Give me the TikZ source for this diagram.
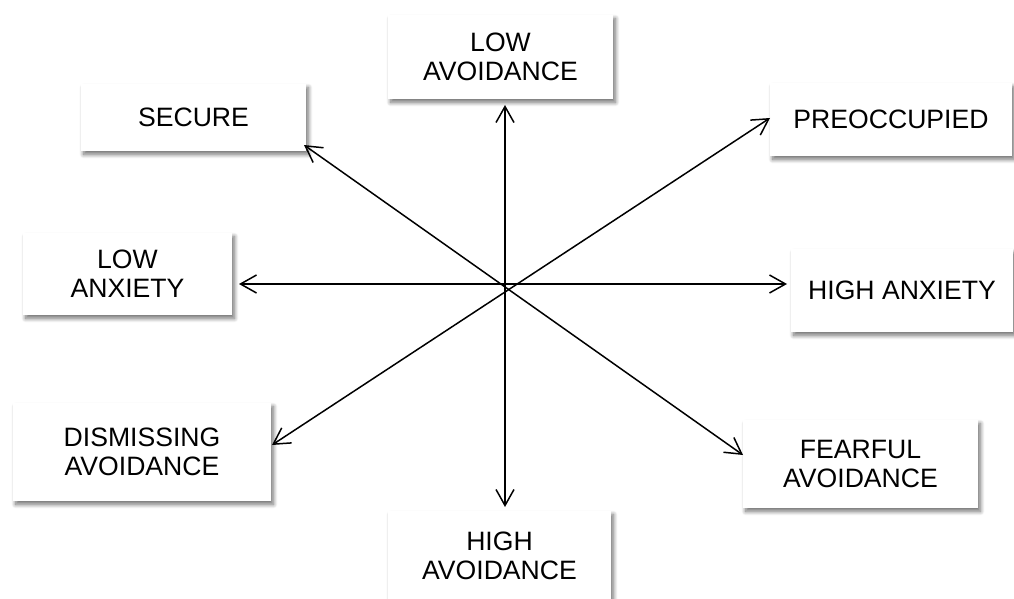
\documentclass[tikz,border=0pt]{standalone}
\usepackage{fontspec}
\setmainfont{Liberation Sans}
\usetikzlibrary{arrows.meta,shadows.blur}

\begin{document}
\begin{tikzpicture}[x=1pt,y=-1pt,
  label box/.style={fill=white, draw=none, inner sep=0pt, align=center,
    font=\fontsize{26.6}{29}\selectfont,
    blur shadow={shadow xshift=2.5pt, shadow yshift=-3.5pt,
      shadow blur radius=4pt, shadow blur steps=10, shadow opacity=55}},
  axis arrow/.style={line width=1.5pt,
    {Straight Barb[length=16pt,width=18pt,line width=1.5pt]}-{Straight Barb[length=16pt,width=18pt,line width=1.5pt]}}
]
\useasboundingbox (0,0) rectangle (1014,599);

% category boxes
\node[label box, minimum width=225pt, minimum height=84pt] (lowav) at (500.5,57) {LOW\\AVOIDANCE};
\node[label box, minimum width=225pt, minimum height=67pt] (secure) at (193.5,117.5) {SECURE};
\node[label box, minimum width=242pt, minimum height=73pt] (preocc) at (891,119.5) {PREOCCUPIED};
\node[label box, minimum width=209pt, minimum height=82pt] (lowanx) at (127.5,274) {LOW\\ANXIETY};
\node[label box, minimum width=222pt, minimum height=83pt] (highanx) at (902,290.5) {HIGH ANXIETY};
\node[label box, minimum width=258pt, minimum height=98pt] (dismiss) at (142,452) {DISMISSING\\AVOIDANCE};
\node[label box, minimum width=235pt, minimum height=88pt] (fearful) at (860.5,464) {FEARFUL\\AVOIDANCE};
\node[label box, minimum width=223pt, minimum height=90pt] (highav) at (499.5,556) {HIGH\\AVOIDANCE};

% arrow end points next to the boxes
\coordinate (vtop) at (505,105);
\coordinate (vbot) at (505,507);
\coordinate (hleft) at (239,284);
\coordinate (hright) at (787,284);
\coordinate (secpt) at (304,145);
\coordinate (fearpt) at (743,455);
\coordinate (prept) at (770,118);
\coordinate (dispt) at (272,445);

% axes through the centre
\draw[axis arrow] (vtop) -- (vbot);
\draw[axis arrow] (hleft) -- (hright);
\draw[axis arrow] (secpt) -- (fearpt);
\draw[axis arrow] (dispt) -- (prept);
\end{tikzpicture}
\end{document}
